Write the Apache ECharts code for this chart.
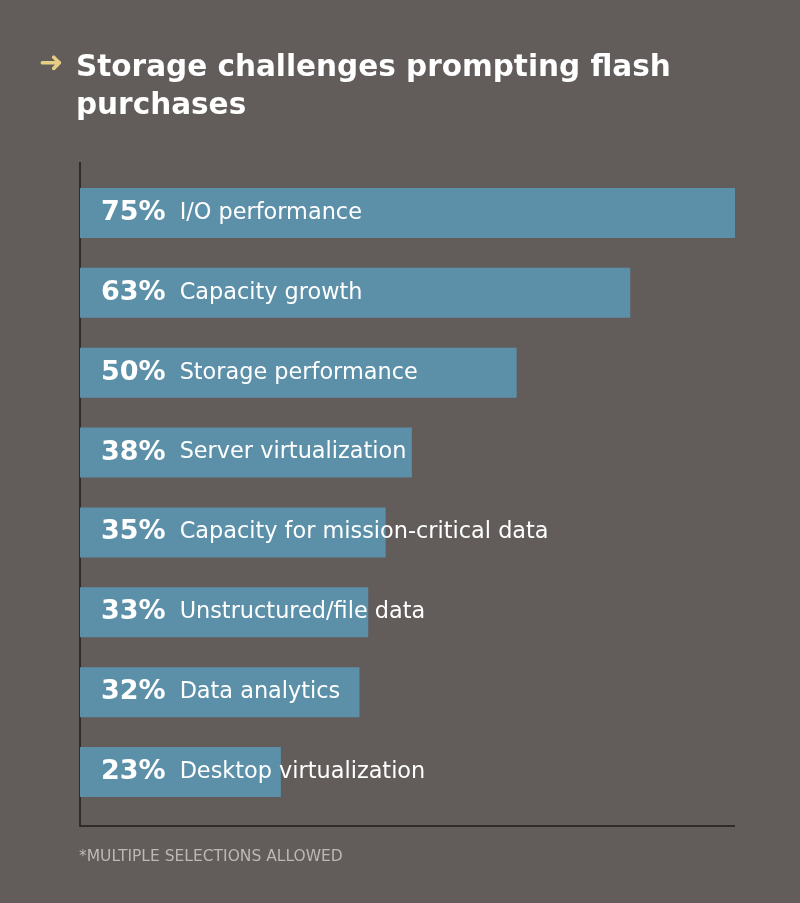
<!DOCTYPE html>
<html>
<head>
<meta charset="utf-8">
<script src="https://cdn.jsdelivr.net/npm/echarts@6/dist/echarts.min.js"></script>
<style>
  html, body { margin: 0; padding: 0; background: #625c5b; }
  #chart { width: 800px; height: 903px; }
</style>
</head>
<body>
<div id="chart"></div>
<script>
// categories, top to bottom
var categories = [
    'I/O performance',
    'Capacity growth',
    'Storage performance',
    'Server virtualization',
    'Capacity for mission-critical data',
    'Unstructured/file data',
    'Data analytics',
    'Desktop virtualization'
];
var percents = [75, 63, 50, 38, 35, 33, 32, 23];

var chartDom = echarts.init(document.getElementById('chart'));

chartDom.setOption({
    backgroundColor: '#625c5b',
    animation: false,
    title: {
        text: 'Storage challenges prompting flash\npurchases',
        left: 71,
        top: 44,
        textStyle: {
            color: '#ffffff',
            fontFamily: 'DejaVu Sans',
            fontWeight: 'bold',
            fontSize: 29.5,
            lineHeight: 38
        }
    },
    grid: {
        left: 80,
        right: 65,
        top: 173,
        height: 639
    },
    xAxis: {
        type: 'value',
        min: 0,
        max: 75,
        show: false
    },
    yAxis: {
        type: 'category',
        inverse: true,
        data: categories,
        show: false
    },
    series: [{
        type: 'bar',
        data: percents,
        barWidth: 50,
        itemStyle: { color: '#5c90a9' },
        label: {
            show: true,
            position: 'insideLeft',
            distance: 21,
            formatter: function (p) {
                return '{p|' + p.value + '%}{n|' + p.name + '}';
            },
            rich: {
                p: {
                    color: '#ffffff',
                    fontFamily: 'DejaVu Sans',
                    fontWeight: 'bold',
                    fontSize: 27,
                    padding: [0, 14, 0, 0]
                },
                n: {
                    color: '#ffffff',
                    fontFamily: 'DejaVu Sans',
                    fontSize: 22.4
                }
            }
        }
    }],
    graphic: [
        // arrow before title
        {
            type: 'text',
            left: 39,
            top: 50,
            style: {
                text: '➜',
                fill: '#e6cf85',
                font: 'bold 29px DejaVu Sans'
            }
        },
        // axis lines
        {
            type: 'polyline',
            shape: { points: [[80, 162], [80, 826], [735, 826]] },
            style: { stroke: '#1f1c1c', lineWidth: 1.5, fill: null }
        },
        {
            type: 'text',
            left: 79,
            top: 849,
            style: {
                text: '*MULTIPLE SELECTIONS ALLOWED',
                fill: '#bdb8b6',
                font: '15.5px "DejaVu Sans"'
            }
        }
    ]
});
</script>
</body>
</html>
